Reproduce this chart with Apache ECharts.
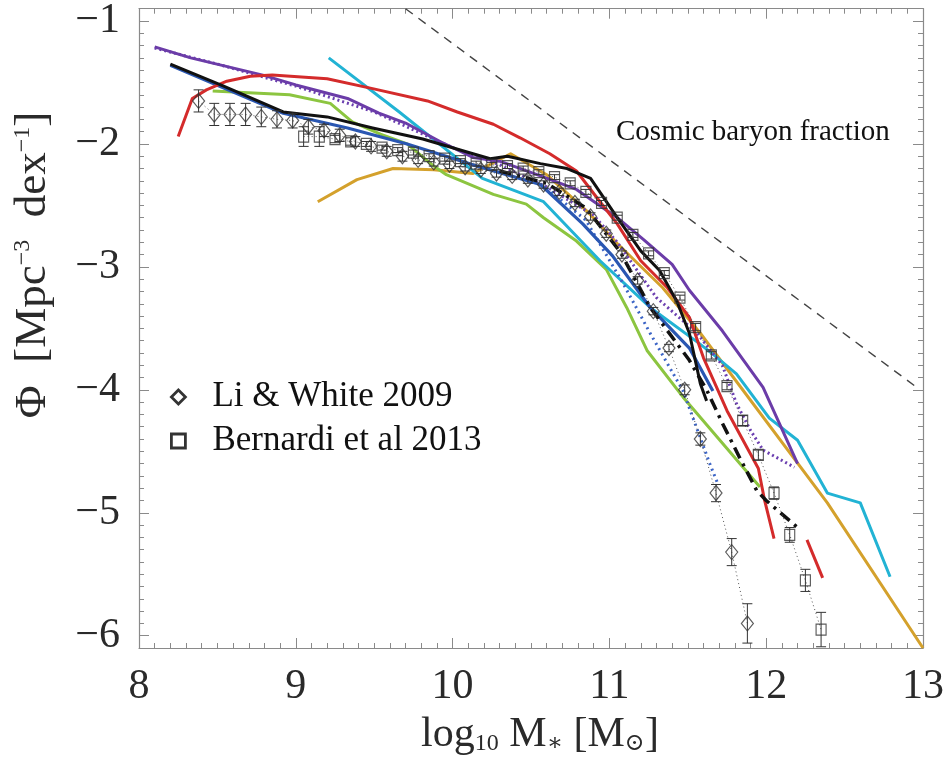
<!DOCTYPE html>
<html>
<head>
<meta charset="utf-8">
<script src="https://cdn.jsdelivr.net/npm/echarts@6/dist/echarts.min.js"></script>
<style>
  html, body { margin: 0; padding: 0; background: #fff; }
  #chart { width: 948px; height: 760px; }
</style>
</head>
<body>
<div id="chart"></div>
<script>
// Galaxy stellar mass function: observations vs. model predictions
const xTicks = [8, 9, 10, 11, 12, 13];
const yTicks = [-6, -5, -4, -3, -2, -1];
const xRange = [8, 13];
const yRange = [-6.1, -0.9];

// Li & White (2009) SDSS measurement
const liWhiteMass = [8.38, 8.48, 8.58, 8.68, 8.78, 8.88, 8.98, 9.08, 9.18, 9.28, 9.38, 9.48,
  9.58, 9.68, 9.78, 9.88, 9.98, 10.08, 10.18, 10.28, 10.38, 10.48, 10.58, 10.68,
  10.78, 10.88, 10.98, 11.08, 11.18, 11.28, 11.38, 11.48, 11.58, 11.68, 11.78, 11.88];
const liWhitePhi = [-1.65, -1.76, -1.76, -1.76, -1.78, -1.80, -1.81, -1.86, -1.89, -1.93, -1.98, -2.02,
  -2.06, -2.10, -2.13, -2.15, -2.17, -2.19, -2.21, -2.24, -2.26, -2.29, -2.33, -2.39,
  -2.48, -2.59, -2.73, -2.90, -3.11, -3.36, -3.66, -4.00, -4.40, -4.84, -5.32, -5.90];
const liWhiteErr = [0.09, 0.09, 0.09, 0.09, 0.08, 0.07, 0.06, 0.06, 0.05, 0.05, 0.04, 0.04,
  0.04, 0.04, 0.03, 0.03, 0.03, 0.03, 0.03, 0.03, 0.03, 0.03, 0.03, 0.03,
  0.03, 0.03, 0.03, 0.03, 0.03, 0.03, 0.03, 0.04, 0.05, 0.07, 0.11, 0.16];

// Bernardi et al. (2013) measurement
const bernardiMass = [9.05, 9.15, 9.25, 9.35, 9.45, 9.55, 9.65, 9.75, 9.85, 9.95, 10.05, 10.15,
  10.25, 10.35, 10.45, 10.55, 10.65, 10.75, 10.85, 10.95, 11.05, 11.15, 11.25, 11.35,
  11.45, 11.55, 11.65, 11.75, 11.85, 11.95, 12.05, 12.15, 12.25, 12.35];
const bernardiPhi = [-1.94, -1.94, -1.96, -1.98, -2.00, -2.03, -2.05, -2.07, -2.10, -2.12, -2.14, -2.16,
  -2.17, -2.18, -2.20, -2.23, -2.27, -2.32, -2.39, -2.48, -2.60, -2.74, -2.89, -3.05,
  -3.25, -3.49, -3.72, -3.97, -4.25, -4.53, -4.84, -5.18, -5.55, -5.95];
const bernardiErr = [0.08, 0.08, 0.03, 0.03, 0.02, 0.02, 0.02, 0.02, 0.02, 0.02, 0.02, 0.02,
  0.02, 0.02, 0.02, 0.02, 0.02, 0.02, 0.02, 0.02, 0.02, 0.02, 0.02, 0.02,
  0.02, 0.03, 0.03, 0.03, 0.04, 0.04, 0.05, 0.06, 0.09, 0.14];

// Model curves: [log10 M*, log10 Phi]
const modelPurple = [[8.10, -1.21], [8.33, -1.30], [8.79, -1.44], [9.00, -1.52], [9.33, -1.63],
  [9.53, -1.75], [9.70, -1.83], [9.92, -1.98], [10.13, -2.11], [10.30, -2.14], [10.56, -2.26],
  [10.79, -2.37], [11.05, -2.60], [11.22, -2.78], [11.40, -2.98], [11.51, -3.19], [11.72, -3.52],
  [11.98, -3.98], [12.20, -4.60]];
const modelPurpleDotted = [[8.10, -1.22], [8.50, -1.35], [9.00, -1.53], [9.50, -1.74], [10.00, -2.03],
  [10.30, -2.17], [10.60, -2.35], [10.90, -2.58], [11.05, -2.80], [11.30, -3.25], [11.56, -3.54],
  [11.72, -3.80], [11.81, -4.11], [11.90, -4.33], [11.98, -4.49], [12.18, -4.63]];
const modelRed = [[8.25, -1.94], [8.34, -1.63], [8.43, -1.56], [8.56, -1.49], [8.71, -1.45],
  [8.85, -1.44], [9.20, -1.47], [9.49, -1.55], [9.84, -1.65], [10.03, -1.74], [10.26, -1.84],
  [10.43, -1.95], [10.62, -2.08], [10.79, -2.22], [10.94, -2.47], [11.05, -2.65], [11.20, -2.95],
  [11.37, -3.17], [11.51, -3.41], [11.60, -3.74], [11.75, -4.17], [11.95, -4.64], [11.99, -4.90],
  [12.05, -5.21]];
const modelRedTail = [[12.26, -5.22], [12.36, -5.53]];
const modelBlack = [[8.20, -1.35], [8.54, -1.53], [8.92, -1.74], [9.20, -1.78], [9.49, -1.87],
  [9.81, -1.96], [10.13, -2.08], [10.24, -2.12], [10.35, -2.10], [10.56, -2.16], [10.73, -2.20],
  [10.88, -2.28], [11.05, -2.60], [11.20, -2.87], [11.32, -3.03], [11.43, -3.28], [11.51, -3.54],
  [11.58, -3.95], [11.62, -4.09]];
const modelBlackDashDot = [[10.30, -2.22], [10.60, -2.32], [10.85, -2.52], [11.07, -2.88],
  [11.26, -3.33], [11.51, -3.76], [11.62, -4.00], [11.72, -4.27], [11.83, -4.55], [11.94, -4.82],
  [12.00, -4.90], [12.20, -5.12]];
const modelBlue = [[8.20, -1.36], [8.92, -1.75], [9.33, -1.87], [9.71, -2.00], [10.13, -2.17],
  [10.56, -2.33], [10.83, -2.65], [11.02, -2.91], [11.26, -3.33], [11.51, -3.66], [11.66, -4.01]];
const modelBlueDotted = [[10.60, -2.36], [10.85, -2.62], [11.09, -3.14], [11.26, -3.54],
  [11.47, -4.01], [11.64, -4.60], [11.69, -4.76]];
const modelGreen = [[8.47, -1.57], [8.96, -1.60], [9.22, -1.67], [9.36, -1.82], [9.54, -1.92],
  [9.71, -2.00], [9.88, -2.18], [9.96, -2.25], [10.26, -2.41], [10.47, -2.49], [10.58, -2.60],
  [10.79, -2.79], [10.98, -3.02], [11.11, -3.33], [11.24, -3.68], [11.47, -4.06], [11.96, -4.79]];
const modelCyan = [[9.21, -1.30], [9.66, -1.74], [10.19, -2.28], [10.58, -2.47], [10.94, -2.95],
  [11.26, -3.33], [11.57, -3.62], [11.66, -3.71], [11.81, -3.87], [12.02, -4.23], [12.20, -4.41],
  [12.39, -4.84], [12.60, -4.92], [12.79, -5.52]];
const modelGold = [[9.14, -2.47], [9.39, -2.29], [9.62, -2.20], [9.88, -2.21], [10.13, -2.24],
  [10.37, -2.08], [10.60, -2.25], [10.86, -2.55], [11.05, -2.81], [11.34, -3.17], [11.58, -3.54],
  [12.39, -4.92], [13.00, -6.10]];
const baryonLimit = [[9.70, -0.90], [12.95, -3.97]];

const FRAME = '#8a8a8a';
const SERIF = '"Liberation Serif", "DejaVu Serif", serif';

// minor tick positions every 0.1 dex, skipping the integer (major) ones
function minorSteps(lo, hi) {
  const out = [];
  for (let i = Math.round(lo * 10); i <= Math.round(hi * 10); i++) {
    if (i % 10 !== 0) out.push(i / 10);
  }
  return out;
}
const xMinor = minorSteps(xRange[0], xRange[1]);
const yMinor = minorSteps(yRange[0], yRange[1]);

function axisPart(kind, position, ticks, len, labels) {
  const base = {
    type: 'value', min: kind === 'x' ? xRange[0] : yRange[0], max: kind === 'x' ? xRange[1] : yRange[1],
    position: position, offset: 0, gridIndex: 0,
    splitLine: { show: false },
    axisLine: { show: !!labels, onZero: false, lineStyle: { color: FRAME, width: 1.2 } },
    axisTick: { show: true, inside: true, length: len, customValues: ticks, lineStyle: { color: FRAME, width: 1 } },
    axisLabel: { show: false }
  };
  if (labels === 'labels') {
    base.axisLabel = {
      show: true, customValues: ticks, fontFamily: SERIF, fontSize: 42, color: '#2a2a2a',
      margin: kind === 'x' ? 18 : 19,
      formatter: v => (v < 0 ? '\u2212' + Math.abs(v) : String(v))
    };
  }
  return base;
}

const xAxes = [
  axisPart('x', 'bottom', xTicks, 10, 'labels'),
  axisPart('x', 'bottom', xMinor, 5, false),
  axisPart('x', 'top', xTicks, 10, true),
  axisPart('x', 'top', xMinor, 5, false)
];
const yAxes = [
  axisPart('y', 'left', yTicks, 10, 'labels'),
  axisPart('y', 'left', yMinor, 5, false),
  axisPart('y', 'right', yTicks, 10, true),
  axisPart('y', 'right', yMinor, 5, false)
];

function curve(name, data, color, width, type, z) {
  return {
    name: name, type: 'line', data: data, xAxisIndex: 0, yAxisIndex: 0,
    showSymbol: false, symbol: 'none', clip: true, z: z || 2,
    lineStyle: { color: color, width: width, type: type || 'solid', cap: 'butt', join: 'round' }
  };
}

function errorBars(xs, ys, es, color) {
  return {
    type: 'custom', xAxisIndex: 0, yAxisIndex: 0, z: 4, clip: true,
    data: xs.map((x, i) => [x, ys[i] - es[i], ys[i] + es[i]]),
    renderItem: function (params, api) {
      const lo = api.coord([api.value(0), api.value(1)]);
      const hi = api.coord([api.value(0), api.value(2)]);
      const cap = 5;
      const st = { stroke: color, lineWidth: 1 };
      return {
        type: 'group', children: [
          { type: 'line', shape: { x1: lo[0], y1: lo[1], x2: hi[0], y2: hi[1] }, style: st },
          { type: 'line', shape: { x1: lo[0] - cap, y1: lo[1], x2: lo[0] + cap, y2: lo[1] }, style: st },
          { type: 'line', shape: { x1: hi[0] - cap, y1: hi[1], x2: hi[0] + cap, y2: hi[1] }, style: st }
        ]
      };
    }
  };
}

const liWhitePts = liWhiteMass.map((x, i) => [x, liWhitePhi[i]]);
const bernardiPts = bernardiMass.map((x, i) => [x, bernardiPhi[i]]);

const chart = echarts.init(document.getElementById('chart'), null, { renderer: 'canvas' });
chart.setOption({
  animation: false,
  backgroundColor: '#ffffff',
  grid: { left: 139, right: 25, top: 7, bottom: 112, containLabel: false },
  xAxis: xAxes,
  yAxis: yAxes,
  legend: {
    left: 165, top: 374, orient: 'vertical', itemWidth: 14, itemHeight: 14, itemGap: 8,
    selectedMode: false,
    textStyle: { fontFamily: SERIF, fontSize: 35, lineHeight: 36, color: '#111', padding: [0, 0, 0, 22] },
    data: [
      { name: 'Li & White 2009', icon: 'diamond', itemStyle: { color: '#fff', borderColor: '#000', borderWidth: 2.8 } },
      { name: 'Bernardi et al 2013', icon: 'rect', itemStyle: { color: '#fff', borderColor: '#000', borderWidth: 2.8 } }
    ]
  },
  graphic: [
    {
      type: 'text', left: 616, top: 118, silent: true,
      style: { text: 'Cosmic baryon fraction', font: '29px ' + SERIF, fill: '#111' }
    },
    {
      type: 'text', x: 540, y: 735, silent: true,
      style: {
        text: 'log{sub|10} M{sub|\u2217} [M{sub|\u2299}]',
        align: 'center', verticalAlign: 'middle',
        font: '42px ' + SERIF, fill: '#2a2a2a',
        rich: { sub: { fontFamily: SERIF, fontSize: 24, verticalAlign: 'bottom', fill: '#2a2a2a', padding: [14, 0, 0, 0] } }
      }
    },
    {
      type: 'text', x: 33, y: 265, rotation: Math.PI / 2, silent: true,
      style: {
        text: '\u03A6  [Mpc{sup|\u22123}  dex{sup|\u22121}]',
        align: 'center', verticalAlign: 'middle',
        font: '45px ' + SERIF, fill: '#2a2a2a',
        rich: { sup: { fontFamily: SERIF, fontSize: 24, verticalAlign: 'top', fill: '#2a2a2a', padding: [0, 0, 16, 0] } }
      }
    }
  ],
  series: [
    curve('baryon', baryonLimit, '#444', 1.4, [9, 7], 1),
    curve('gold', modelGold, '#d4a12c', 3),
    curve('green', modelGreen, '#8cc540', 3),
    curve('cyan', modelCyan, '#22b3d4', 3),
    curve('purpleDotted', modelPurpleDotted, '#6b3fb0', 3, [2, 3]),
    curve('purple', modelPurple, '#6b3ca8', 3),
    curve('blueDotted', modelBlueDotted, '#3b64c6', 3, [2, 4]),
    curve('blue', modelBlue, '#2a57b2', 3.2),
    curve('red', modelRed, '#d42b2b', 3),
    curve('redTail', modelRedTail, '#d42b2b', 3),
    curve('black', modelBlack, '#111', 3),
    curve('blackDashDot', modelBlackDashDot, '#111', 3.5, [12, 6, 3, 6]),
    {
      name: 'liWhiteLink', type: 'line', data: liWhitePts, showSymbol: false, symbol: 'none', z: 3,
      lineStyle: { color: '#555', width: 1, type: [1, 3] }
    },
    {
      name: 'bernardiLink', type: 'line', data: bernardiPts, showSymbol: false, symbol: 'none', z: 3,
      lineStyle: { color: '#555', width: 1, type: [1, 3] }
    },
    errorBars(liWhiteMass, liWhitePhi, liWhiteErr, '#333'),
    errorBars(bernardiMass, bernardiPhi, bernardiErr, '#333'),
    {
      name: 'Li & White 2009', type: 'scatter', data: liWhitePts, symbol: 'diamond', symbolSize: [12, 15], z: 5,
      itemStyle: { color: 'rgba(255,255,255,0)', borderColor: '#333', borderWidth: 1.2 }
    },
    {
      name: 'Bernardi et al 2013', type: 'scatter', data: bernardiPts, symbol: 'rect', symbolSize: [10, 11], z: 5,
      itemStyle: { color: 'rgba(255,255,255,0)', borderColor: '#333', borderWidth: 1.2 }
    }
  ]
});
</script>
</body>
</html>
